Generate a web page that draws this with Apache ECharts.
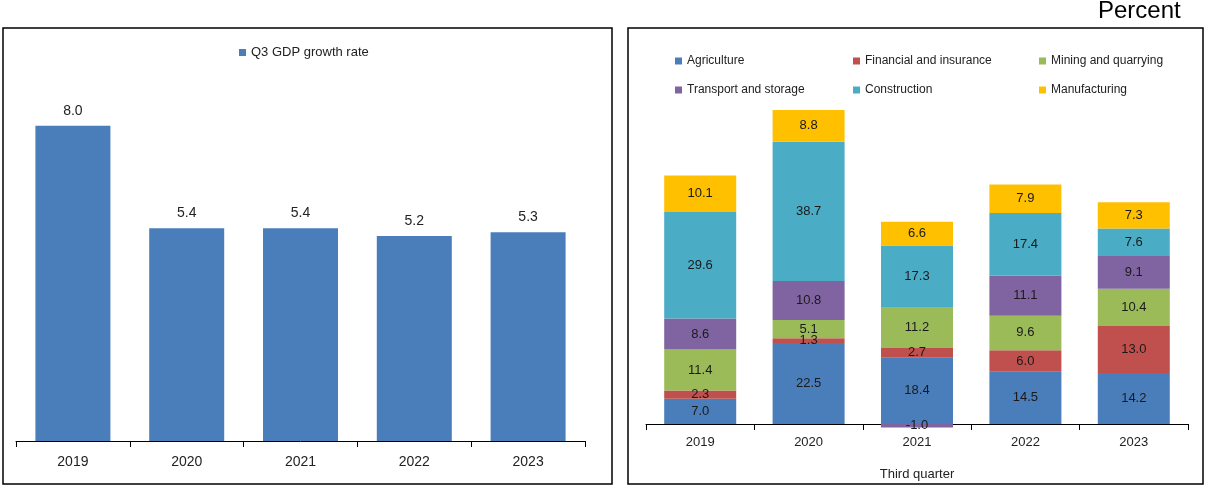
<!DOCTYPE html>
<html>
<head>
<meta charset="utf-8">
<script src="https://cdn.jsdelivr.net/npm/echarts@6/dist/echarts.min.js"></script>
<style>
  html, body { margin: 0; padding: 0; background: #fff; }
  #main { width: 1207px; height: 487px; }
</style>
</head>
<body>
<div id="main"></div>
<script>
// data
var years = ['2019', '2020', '2021', '2022', '2023'];
var gdpGrowth = [8.0, 5.4, 5.4, 5.2, 5.3];

var sectorNames = ['Agriculture', 'Financial and insurance', 'Mining and quarrying',
                   'Transport and storage', 'Construction', 'Manufacturing'];
var agriculture  = [7.0, 22.5, 18.4, 14.5, 14.2];
var financial    = [2.3, 1.3, 2.7, 6.0, 13.0];
var mining       = [11.4, 5.1, 11.2, 9.6, 10.4];
var transport    = [8.6, 10.8, -1.0, 11.1, 9.1];
var construction = [29.6, 38.7, 17.3, 17.4, 7.6];
var manufacturing = [10.1, 8.8, 6.6, 7.9, 7.3];
var sectorData = [agriculture, financial, mining, transport, construction, manufacturing];
var sectorColors = ['#4a7ebb', '#c0504d', '#9bbb59', '#8064a2', '#4bacc6', '#ffc000'];

var font = "'Liberation Sans Narrow', 'Arial Narrow', 'Liberation Sans', Arial, sans-serif";

var chart = echarts.init(document.getElementById('main'));

var series = [{
    name: 'Q3 GDP growth rate',
    type: 'bar',
    xAxisIndex: 0,
    yAxisIndex: 0,
    data: gdpGrowth,
    barWidth: 75,
    itemStyle: { color: '#4a7ebb' },
    label: {
        show: true,
        position: 'top',
        distance: 8,
        color: '#222',
        fontSize: 14,
        fontFamily: font,
        formatter: function (p) { return p.value.toFixed(1); }
    }
}];

// stacked sectors, the -1.0 in 2021 hangs below the axis so no clipping
for (var i = 0; i < sectorNames.length; i++) {
    series.push({
        name: sectorNames[i],
        type: 'bar',
        stack: 'sectors',
        xAxisIndex: 1,
        yAxisIndex: 1,
        clip: false,
        data: sectorData[i],
        barWidth: 72,
        itemStyle: { color: sectorColors[i] },
        label: {
            show: true,
            position: 'inside',
            color: '#1a1a1a',
            fontSize: 13,
            fontFamily: font,
            formatter: function (p) { return p.value.toFixed(1); }
        }
    });
}

var legendText = { color: '#222', fontSize: 12, fontFamily: font };

var option = {
    animation: false,
    legend: [
        { left: 234, top: 41, itemWidth: 7, itemHeight: 7, itemGap: 4, icon: 'rect',
          textStyle: { color: '#222', fontSize: 13, fontFamily: font },
          data: ['Q3 GDP growth rate'] },
        { left: 670, top: 50, orient: 'vertical', itemWidth: 7, itemHeight: 7, itemGap: 17, icon: 'rect',
          textStyle: legendText, data: ['Agriculture', 'Transport and storage'] },
        { left: 848, top: 50, orient: 'vertical', itemWidth: 7, itemHeight: 7, itemGap: 17, icon: 'rect',
          textStyle: legendText, data: ['Financial and insurance', 'Construction'] },
        { left: 1034, top: 50, orient: 'vertical', itemWidth: 7, itemHeight: 7, itemGap: 17, icon: 'rect',
          textStyle: legendText, data: ['Mining and quarrying', 'Manufacturing'] }
    ],
    grid: [
        { left: 16, width: 569, top: 47, height: 394, outerBoundsMode: 'none' },
        { left: 646, width: 542, top: 100, height: 324, outerBoundsMode: 'none' }
    ],
    xAxis: [
        {
            type: 'category', gridIndex: 0, data: years,
            axisLine: { lineStyle: { color: '#000', width: 1 } },
            axisTick: { show: true, length: 6, lineStyle: { color: '#000' } },
            axisLabel: { color: '#222', fontSize: 14, fontFamily: font, margin: 14 }
        },
        {
            type: 'category', gridIndex: 1, data: years,
            name: 'Third quarter', nameLocation: 'middle', nameGap: 44,
            nameTextStyle: { color: '#222', fontSize: 13, fontFamily: font },
            axisLine: { lineStyle: { color: '#000', width: 1 } },
            axisTick: { show: true, length: 6, lineStyle: { color: '#000' } },
            axisLabel: { color: '#222', fontSize: 13, fontFamily: font, margin: 12 }
        }
    ],
    yAxis: [
        { type: 'value', gridIndex: 0, min: 0, max: 10, interval: 2, show: false, splitLine: { show: false } },
        { type: 'value', gridIndex: 1, min: 0, max: 90, interval: 10, show: false, splitLine: { show: false } }
    ],
    graphic: [
        { type: 'rect', shape: { x: 3, y: 28, width: 609, height: 456 },
          style: { fill: 'none', stroke: '#000', lineWidth: 1.5 } },
        { type: 'rect', shape: { x: 628, y: 28, width: 575, height: 456 },
          style: { fill: 'none', stroke: '#000', lineWidth: 1.5 } },
        { type: 'text', left: 1098, top: -1,
          style: { text: 'Percent', fill: '#000', fontSize: 24, fontFamily: "'Liberation Sans', Arial, sans-serif" } }
    ],
    series: series
};

chart.setOption(option);
</script>
</body>
</html>
